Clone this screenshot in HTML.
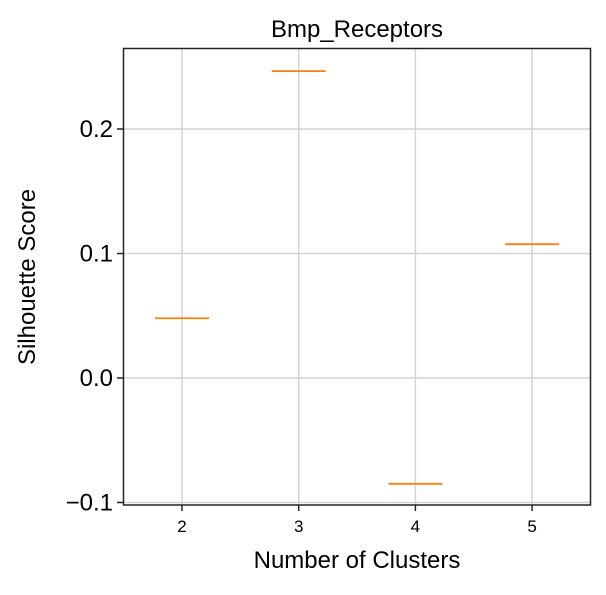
<!DOCTYPE html>
<html><head><meta charset="utf-8"><style>
body{margin:0;background:#fff;}
text{font-family:"Liberation Sans",Arial,sans-serif;}
</style></head><body>
<svg id="chart" width="606" height="590" viewBox="0 0 606 590" xmlns="http://www.w3.org/2000/svg">
<rect width="606" height="590" fill="#fff"/>
<g id="grid"></g>
<g id="marks"></g>
<rect x="123.5" y="48.5" width="467" height="456.5" fill="none" stroke="#222" stroke-width="1.5"/>
<g id="axes"></g>
<text x="357" y="37" font-size="24" text-anchor="middle">Bmp_Receptors</text>
<text x="357" y="568" font-size="24" text-anchor="middle">Number of Clusters</text>
<text transform="translate(35,277) rotate(-90)" font-size="24" text-anchor="middle">Silhouette Score</text>
</svg>
<script>
const categories = ["2","3","4","5"];
const scores = [0.048, 0.2465, -0.085, 0.1075];
const yTicks = [-0.1, 0.0, 0.1, 0.2];
const yTickLabels = ["\u22120.1","0.0","0.1","0.2"];

const NS="http://www.w3.org/2000/svg";
function y(v){return 378 - v*1245;}
function x(i){return 182 + i*116.7;}
function mk(tag,attrs,parent){const e=document.createElementNS(NS,tag);for(const k in attrs)e.setAttribute(k,attrs[k]);parent.appendChild(e);return e;}
const grid=document.getElementById('grid'),marks=document.getElementById('marks'),axes=document.getElementById('axes');
yTicks.forEach((t,i)=>{
  const g=mk('line',{x1:123,x2:590,y1:y(t),y2:y(t),stroke:'#d3d3d3','stroke-width':1.5},grid);
  
  
  const tk=mk('line',{x1:117,x2:123,y1:y(t),y2:y(t),stroke:'#222','stroke-width':1.5},axes);
  
  
  const lb=mk('text',{x:113,y:y(t)+8,'font-size':24,'text-anchor':'end'},axes);
  lb.textContent=yTickLabels[i];
  
  
});
categories.forEach((c,i)=>{
  const g=mk('line',{x1:x(i),x2:x(i),y1:48,y2:505,stroke:'#d3d3d3','stroke-width':1.5},grid);
  
  
  const tk=mk('line',{x1:x(i),x2:x(i),y1:505,y2:511,stroke:'#222','stroke-width':1.5},axes);
  
  
  const lb=mk('text',{x:x(i),y:532,'font-size':17,'text-anchor':'middle'},axes);
  lb.textContent=c;
  
  
  const m=mk('line',{x1:x(i)-27,x2:x(i)+27,y1:y(scores[i]),y2:y(scores[i]),stroke:'#ff7f0e','stroke-width':1.8},marks);
  
  
});
</script>
</body></html>
